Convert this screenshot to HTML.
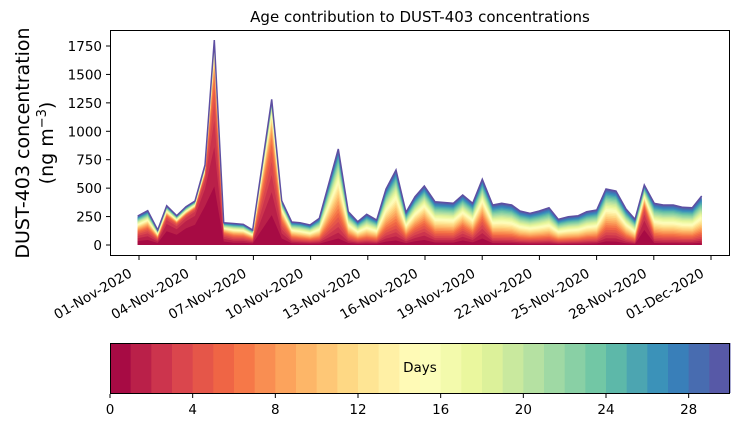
<!DOCTYPE html>
<html><head><meta charset="utf-8"><style>
body{margin:0;background:#fff}
svg{display:block;font-family:"DejaVu Sans","Liberation Sans",sans-serif}
</style></head><body>
<svg id="s" width="739" height="425" xmlns="http://www.w3.org/2000/svg">
<text x="420" y="22" font-size="15" text-anchor="middle">Age contribution to DUST-403 concentrations</text>
<g id="stack"></g>
<rect x="110.5" y="30.5" width="619" height="225" fill="none" stroke="#000" stroke-width="1"/>
<g id="axes" font-size="13.5"></g>
<text transform="translate(29,143) rotate(-90)" font-size="19" text-anchor="middle">DUST-403 concentration</text>
<text transform="translate(53,143) rotate(-90)" font-size="19" text-anchor="middle">(ng m<tspan font-size="13" dy="-7">−3</tspan><tspan dy="7">)</tspan></text>
<g id="cbar"></g>
<rect x="110.5" y="343.5" width="619" height="50" fill="none" stroke="#000" stroke-width="1"/>
<text x="420" y="372" font-size="13.5" text-anchor="middle">Days</text>
</svg>
<script>
(function(){
var anc=["#9e0142","#d53e4f","#f46d43","#fdae61","#fee08b","#ffffbf","#e6f598","#abdda4","#66c2a5","#3288bd","#5e4fa2"];
function hx(c){return [parseInt(c.substr(1,2),16),parseInt(c.substr(3,2),16),parseInt(c.substr(5,2),16)];}
function cmap(t){var p=t*10,i=Math.min(9,Math.floor(p)),f=p-i,a=hx(anc[i]),b=hx(anc[i+1]);return "rgb("+a.map(function(v,j){return Math.round(v+(b[j]-v)*f)}).join(",")+")";}
var P=[[137.7,216,.4,3],[147.7,210.7,.45,3],[157.7,230,.4,3],[166.7,205.7,.7,1.5],[176.7,215.7,.7,1.5],[186,206.7,.75,1.2],[195,201,.8,1.2],[205,165,.85,1.2],[214.3,40,.85,2.5],[223.7,222.7,.5,3],[233.5,223.5,.4,4],[243.3,224.3,.4,4],[252.7,230,.35,4],[271.7,99.3,.8,3.5],[281.7,200.7,.6,4],[291.7,222,.3,5],[300,222.7,.25,6],[310,225,.2,6],[319.3,218.3,.2,7],[338.3,149,.45,9],[348.3,211.7,.25,7],[357.7,221.7,.15,7],[366.7,214.3,.15,8],[376.7,220,.15,8],[386,189,.35,9],[396,170,.4,10],[406,212.3,.2,6],[415,196.7,.3,5],[424.3,186,.35,5],[435,201.7,.2,6],[453.3,203.3,.2,6],[462.7,195,.3,4],[472.7,203.3,.2,5],[482.3,179.3,.35,4],[492.7,205,.12,6],[501.7,203.3,.1,7],[511.7,205,.1,7],[520,211,.08,8],[530,213.3,.05,8],[539.3,211,.05,8],[549,207.7,.05,8],[558.3,219.3,.03,9],[568.3,216.7,.03,9],[578.3,215.7,.05,9],[586.7,211.7,.08,8],[596.7,210,.1,8],[606,189,.3,7],[616,191,.3,7],[626,209,.15,7],[635,219.3,.05,8],[644.3,185,.6,2],[654.3,203.3,.15,7],[663.3,205,.12,8],[673.3,205,.12,8],[682.7,207.3,.1,8],[692.3,207.7,.1,8],[701.7,196,.12,7]];
var B=245,N=30,g="";
function F(k,p){var a=p[2],m=p[3];return a*(1-Math.exp(-k/m))/(1-Math.exp(-N/m))+(1-a)*(k/N);}
for(var k=N;k>=1;k--){
 var tp=P.map(function(p){var h=(B-p[1])*F(k,p);return p[0]+","+(B-h).toFixed(1);}).join(" ");
 g+='<polygon points="'+tp+' 701.7,'+B+' 137.7,'+B+'" fill="'+cmap((k-0.5)/N)+'"/>';
}
g+='<polyline points="'+P.map(function(p){return p[0]+","+p[1]}).join(" ")+'" fill="none" stroke="#5e4fa2" stroke-width="1.5"/>';
document.getElementById("stack").innerHTML=g;
var a="";
for(var v=0;v<=1750;v+=250){var y=245-v*0.11371;a+='<line x1="110" x2="106" y1="'+y+'" y2="'+y+'" stroke="#000"/><text x="102" y="'+(y+5)+'" text-anchor="end">'+v+'</text>';}
var lab=["01-Nov-2020","04-Nov-2020","07-Nov-2020","10-Nov-2020","13-Nov-2020","16-Nov-2020","19-Nov-2020","22-Nov-2020","25-Nov-2020","28-Nov-2020","01-Dec-2020"];
for(var i=0;i<11;i++){var x=139+i*57.2;a+='<line x1="'+x+'" x2="'+x+'" y1="256" y2="260" stroke="#000"/><text transform="translate('+(x-6)+',276) rotate(-30)" text-anchor="end">'+lab[i]+'</text>';}
document.getElementById("axes").innerHTML=a;
var c="",w=620/N;
for(var i=0;i<N;i++){c+='<rect x="'+(110+i*w)+'" y="343" width="'+(w+0.5)+'" height="50" fill="'+cmap((i+0.5)/N)+'"/>';}
for(var d=0;d<=28;d+=4){var x=110+d*w;c+='<line x1="'+x+'" x2="'+x+'" y1="394" y2="398" stroke="#000"/><text x="'+x+'" y="414" font-size="13.5" text-anchor="middle">'+d+'</text>';}
document.getElementById("cbar").innerHTML=c;
})();
</script>
</body></html>
